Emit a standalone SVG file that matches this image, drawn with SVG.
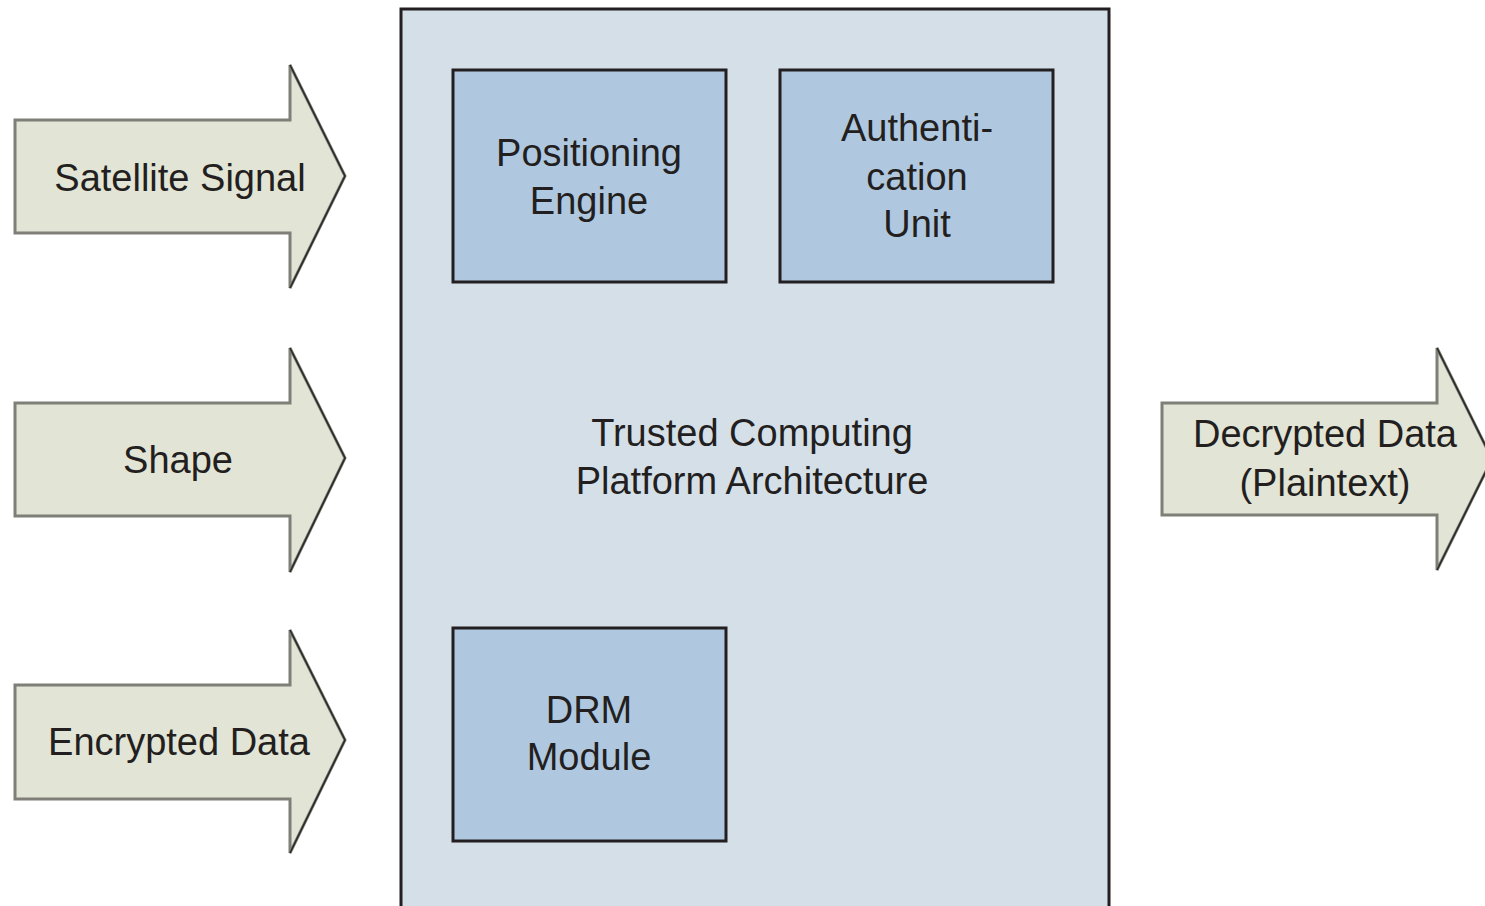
<svg xmlns="http://www.w3.org/2000/svg" width="1485" height="906" viewBox="0 0 1485 906">
<style>
.arrow{fill:#e2e4d5;stroke:#7f7f78;stroke-width:3;stroke-linejoin:miter}
.head{fill:none;stroke:#2a2a28;stroke-width:1.6}
.box{fill:#afc8df;stroke:#231f20;stroke-width:3}
.frame{fill:#d5dfe8;stroke:#231f20;stroke-width:3}
text{font-family:"Liberation Sans",Arial,sans-serif;font-size:38px;fill:#231f20;text-anchor:middle}
</style>
<rect width="1485" height="906" fill="#ffffff"/>
<g id="tcpa">
<rect class="frame" x="401" y="9" width="708" height="930"/>
<text x="752" y="446">Trusted Computing</text>
<text x="752" y="494">Platform Architecture</text>
</g>
<g id="positioning-engine">
<rect class="box" x="453" y="70" width="273" height="212"/>
<text x="589" y="166">Positioning</text>
<text x="589" y="214">Engine</text>
</g>
<g id="authentication-unit">
<rect class="box" x="780" y="70" width="273" height="212"/>
<text x="917" y="141">Authenti-</text>
<text x="917" y="190">cation</text>
<text x="917" y="237">Unit</text>
</g>
<g id="drm-module">
<rect class="box" x="453" y="628" width="273" height="213"/>
<text x="589" y="723">DRM</text>
<text x="589" y="770">Module</text>
</g>
<g id="connectors">
<g id="satellite-signal">
<polygon class="arrow" points="15,120 290,120 290,65 345,176 290,288 290,233 15,233"/>
<polyline class="head" points="290,65 345,176 290,288"/>
<text x="180" y="191">Satellite Signal</text>
</g>
<g id="shape">
<polygon class="arrow" points="15,403 290,403 290,348 345,458 290,572 290,516 15,516"/>
<polyline class="head" points="290,348 345,458 290,572"/>
<text x="178" y="473">Shape</text>
</g>
<g id="encrypted-data">
<polygon class="arrow" points="15,685 290,685 290,630 345,740 290,853 290,799 15,799"/>
<polyline class="head" points="290,630 345,740 290,853"/>
<text x="179" y="755">Encrypted Data</text>
</g>
<g id="decrypted-data">
<polygon class="arrow" points="1162,403 1437,403 1437,348 1492,459 1437,570 1437,515 1162,515"/>
<polyline class="head" points="1437,348 1492,459 1437,570"/>
<text x="1325" y="447">Decrypted Data</text>
<text x="1325" y="496">(Plaintext)</text>
</g>
</g>
</svg>
